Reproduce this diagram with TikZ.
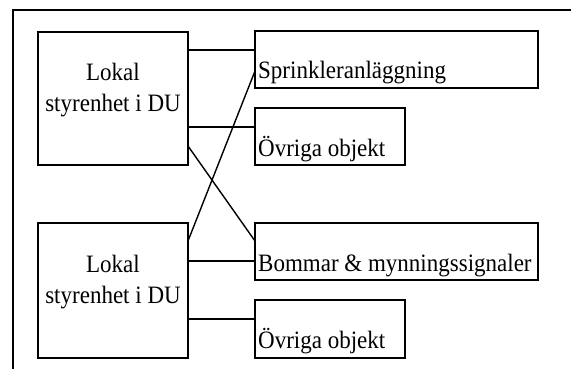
\documentclass[tikz,border=0pt]{standalone}
\usepackage{fontspec}
\setmainfont[FakeStretch=0.92]{Liberation Serif}
\begin{document}
\begin{tikzpicture}[x=1pt,y=-1pt,
  box/.style={draw,line width=1.4pt,inner sep=0pt,outer sep=0pt,anchor=north west},
  txt/.style={inner sep=0pt,font=\fontsize{25}{30}\selectfont},
  link/.style={line width=1.4pt}]
\useasboundingbox (0,0) rectangle (571,369);
% outer frame (cropped)
\coordinate (f1) at (13,369);
\coordinate (f2) at (13,10);
\coordinate (f3) at (571,10);
\draw[line width=1.4pt] (f1) -- (f2) -- (f3);
% boxes
\node[box,minimum width=150pt,minimum height=133pt] (a1) at (38,32) {};
\node[box,minimum width=150pt,minimum height=135pt] (a2) at (38,223) {};
\node[box,minimum width=283pt,minimum height=57pt] (s) at (255,31) {};
\node[box,minimum width=150pt,minimum height=57pt] (o1) at (255,108) {};
\node[box,minimum width=283pt,minimum height=57pt] (b) at (255,223) {};
\node[box,minimum width=150pt,minimum height=58pt] (o2) at (255,300) {};
% texts
\node[txt,anchor=base] (t1a) at (113,81) {Lokal};
\node[txt,anchor=base] (t1b) at (113,111) {styrenhet i DU};
\node[txt,anchor=base] (t2a) at (113,272) {Lokal};
\node[txt,anchor=base] (t2b) at (113,303) {styrenhet i DU};
\node[txt,anchor=base west] (ts) at ([xshift=3pt,yshift=9pt]s.south west) {Sprinkleranläggning};
\node[txt,anchor=base west] (to1) at ([xshift=3pt,yshift=8pt]o1.south west) {Övriga objekt};
\node[txt,anchor=base west] (tb) at ([xshift=3pt,yshift=9pt]b.south west) {Bommar \& mynningssignaler};
\node[txt,anchor=base west] (to2) at ([xshift=3pt,yshift=10pt]o2.south west) {Övriga objekt};
% connector points
\coordinate (p1) at ([yshift=-18pt]a1.north east);
\coordinate (p2) at ([yshift=-95pt]a1.north east);
\coordinate (p3) at ([yshift=-114pt]a1.north east);
\coordinate (q1) at ([yshift=-18pt]a2.north east);
\coordinate (q2) at ([yshift=-38pt]a2.north east);
\coordinate (q3) at ([yshift=-96pt]a2.north east);
\coordinate (sx) at ([yshift=-40pt]s.north west);
\coordinate (bx) at ([yshift=-18pt]b.north west);
% connectors
\draw[link] (p1) -- (p1 -| s.west);
\draw[link] (p2) -- (p2 -| o1.west);
\draw[link] (p3) -- (bx);
\draw[link] (q1) -- (sx);
\draw[link] (q2) -- (q2 -| b.west);
\draw[link] (q3) -- (q3 -| o2.west);
\end{tikzpicture}
\end{document}
